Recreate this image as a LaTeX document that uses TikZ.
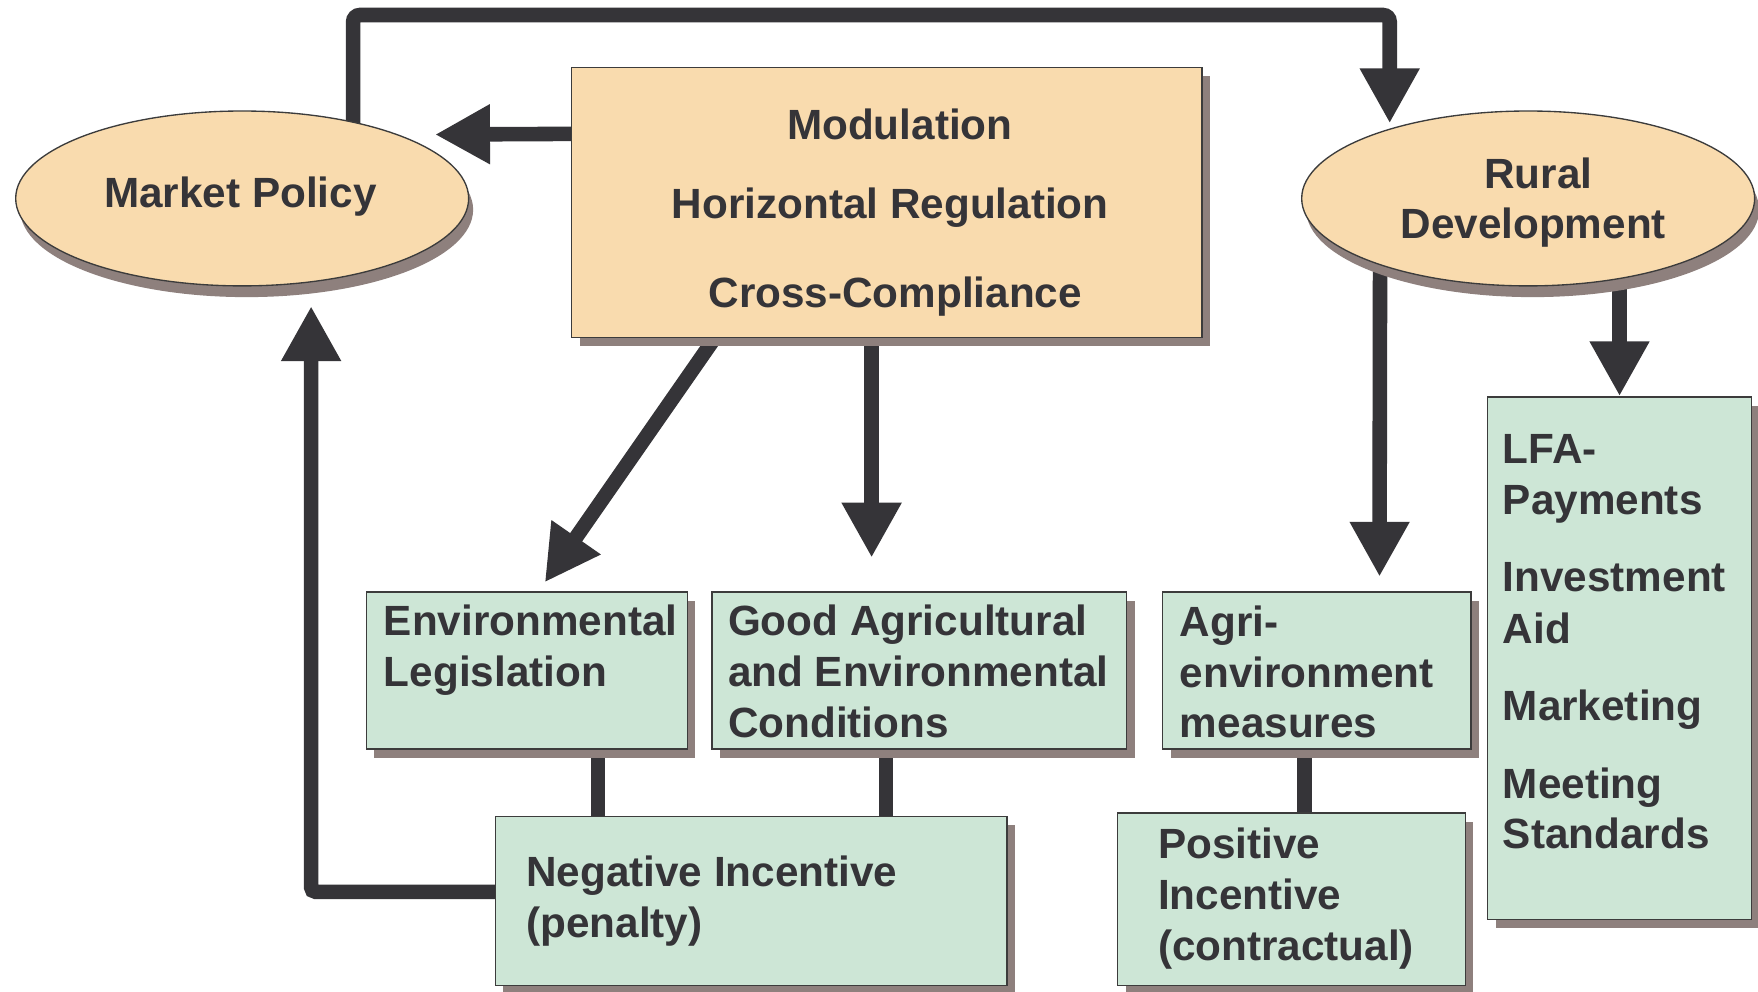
\documentclass[tikz,border=0pt]{standalone}
\usepackage{fontspec}
\setmainfont{Liberation Sans}
\usetikzlibrary{arrows.meta,shadows,calc,shapes.geometric}
\definecolor{beige}{HTML}{F9DBAE}
\definecolor{mint}{HTML}{CDE6D6}
\definecolor{shad}{HTML}{8E807D}
\definecolor{ink}{HTML}{353438}
\definecolor{bord}{HTML}{3C3C3C}
\pgfdeclarelayer{bg}
\pgfdeclarelayer{paper}
\pgfsetlayers{paper,bg,main}
\begin{document}
\begin{tikzpicture}[x=0.5pt,y=-0.5pt,
  ell/.style={ellipse, draw=bord, line width=0.6pt, fill=beige, inner sep=0pt,
    minimum width=202pt, minimum height=78pt,
    drop shadow={shadow xshift=2pt, shadow yshift=-5pt, fill=shad, opacity=1}},
  basebox/.style={rectangle, draw=bord, line width=0.6pt, inner sep=0pt,
    drop shadow={shadow xshift=3.5pt, shadow yshift=-4pt, fill=shad, opacity=1}},
  pbox/.style={basebox, fill=beige},
  gbox/.style={basebox, fill=mint},
  txt/.style={font=\fontsize{18.85pt}{23pt}\selectfont\bfseries, text=ink, inner sep=0pt, anchor=base west},
  ctxt/.style={txt, anchor=base},
  conn/.style={draw=ink, line width=6.5pt},
  arr/.style={conn, -{Triangle[length=24.5pt,width=25pt]}}
]
\begin{pgfonlayer}{paper}
\fill[white] (0,0) rectangle (1568,884);
\end{pgfonlayer}
\useasboundingbox (0,0) rectangle (1568,884);

% shapes
\node[ell] (mp) at (216,177) {};
\node[ell] (rd) at (1363,177) {};
\node[pbox, minimum width=281pt, minimum height=120.5pt] (mod) at (791,180.5) {};
\node[gbox, minimum width=143pt, minimum height=70pt] (envleg) at (470,598) {};
\node[gbox, minimum width=185pt, minimum height=70pt] (goodag) at (820,598) {};
\node[gbox, minimum width=137.5pt, minimum height=70pt] (agri) at (1174.5,598) {};
\node[gbox, minimum width=117.5pt, minimum height=233pt] (lfa) at (1444.5,587) {};
\node[gbox, minimum width=228pt, minimum height=75.5pt] (neg) at (670,803.5) {};
\node[gbox, minimum width=155pt, minimum height=77pt] (pos) at (1152,802) {};

% texts
\node[ctxt] (tmp) at (214.5,185) {Market Policy};
\node[ctxt] (trd1) at (1372,168) {Rural};
\node[ctxt] (trd2) at (1367.5,213) {Development};
\node[ctxt] (tmod1) at (802.5,124) {Modulation};
\node[ctxt] (tmod2) at (794,195) {Horizontal Regulation};
\node[ctxt] (tmod3) at (798.5,274) {Cross-Compliance};
\node[txt] (tel1) at (342,566.5) {Environmental};
\node[txt] (tel2) at (342,612.5) {Legislation};
\node[txt] (tga1) at (649,566.5) {Good Agricultural};
\node[txt] (tga2) at (649,612.5) {and Environmental};
\node[txt] (tga3) at (649,658) {Conditions};
\node[txt] (tae1) at (1052,568) {Agri-};
\node[txt] (tae2) at (1052,613.5) {environment};
\node[txt] (tae3) at (1052,658) {measures};
\node[txt] (tng1) at (469,791) {Negative Incentive};
\node[txt] (tng2) at (469,836) {(penalty)};
\node[txt] (tps1) at (1032.5,766) {Positive};
\node[txt] (tps2) at (1032.5,811.5) {Incentive};
\node[txt] (tps3) at (1032.5,856.5) {(contractual)};
\node[txt] (tlf1) at (1340,413.5) {LFA-};
\node[txt] (tlf2) at (1340,459) {Payments};
\node[txt] (tlf3) at (1340,528) {Investment};
\node[txt] (tlf4) at (1340,574) {Aid};
\node[txt] (tlf5) at (1340,642.5) {Marketing};
\node[txt] (tlf6) at (1340,712) {Meeting};
\node[txt] (tlf7) at (1340,756.5) {Standards};

% corner coordinates
\coordinate (c1) at (315,13.4);
\coordinate (c2) at (1239.5,13.4);
\coordinate (e1) at ($(envleg.south west)+(207,0)$);
\coordinate (e2) at ($(goodag.south west)+(156,0)$);
\coordinate (e3) at ($(agri.south west)+(127,0)$);

\begin{pgfonlayer}{bg}
\draw[arr, rounded corners=3pt] (mp.center -| c1) -- (c1) -- (c2) -- ($(rd.center)+(-123.5,-67)$);
\draw[arr] ($(mod.north west)+(0,60)$) -- ($(mp.center)+(172,-57)$);
\draw[arr] ($(mod.south west)+(128,0)$) -- ($(envleg.north west)+(159.5,-8)$);
\draw[arr] ($(mod.south west)+(268,0)$) -- ($(goodag.north west)+(143,-30)$);
\draw[arr] ($(rd.center)+(-132,0)$) -- ($(agri.north west)+(194,-13)$);
\draw[arr] (rd.center -| lfa.north) -- (lfa.north);
\draw[conn] (e1) -- (e1 |- neg.north);
\draw[conn] (e2) -- (e2 |- neg.north);
\draw[conn] (e3) -- (e3 |- pos.north);
\draw[arr, rounded corners=2pt] ($(neg.north west)+(0,68)$) -| ($(mp.center)+(61.5,96)$);
\end{pgfonlayer}
\end{tikzpicture}
\end{document}
